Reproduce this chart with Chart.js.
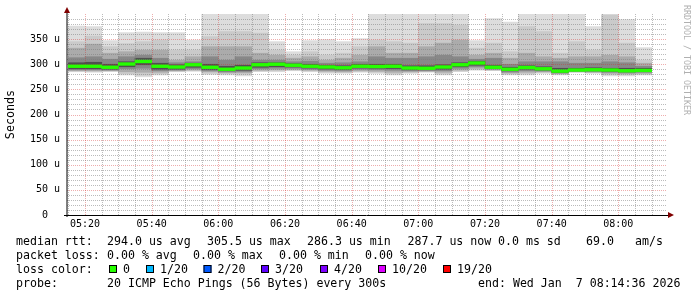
<!DOCTYPE html>
<html>
<head>
<meta charset="utf-8">
<script src="https://cdn.jsdelivr.net/npm/chart.js@4.4.1/dist/chart.umd.min.js"></script>
<style>
  html, body { margin: 0; padding: 0; background: #fff; }
  canvas { display: block; }
</style>
</head>
<body>
<canvas id="chart" width="697" height="297"></canvas>
<script>
// 5 minute bins (start time of each bin)
const binStarts = ['05:15', '05:20', '05:25', '05:30', '05:35', '05:40', '05:45', '05:50', '05:55',
  '06:00', '06:05', '06:10', '06:15', '06:20', '06:25', '06:30', '06:35', '06:40', '06:45', '06:50', '06:55',
  '07:00', '07:05', '07:10', '07:15', '07:20', '07:25', '07:30', '07:35', '07:40', '07:45', '07:50', '07:55',
  '08:00', '08:05'];
const tickLabels = ['05:20', '05:40', '06:00', '06:20', '06:40', '07:00', '07:20', '07:40', '08:00'];

// values in microseconds
const median = [296, 296, 294, 300.5, 305.5, 296, 294.5, 299, 294, 290, 292.5, 299, 300, 298, 296, 294.5, 293, 296,
  295.5, 296, 292.5, 292, 294.5, 299, 302.5, 294, 290, 293.5, 291, 286.3, 288.5, 289, 288.5, 287, 287.7];
const maxRtt = [376, 375, 347, 363, 364, 363, 363, 348, 430, 430, 430, 430, 345, 325, 347, 349, 345, 351,
  430, 430, 430, 430, 430, 430, 347, 391, 384, 430, 430, 430, 430, 375, 430, 389, 333];
const minRtt = [285, 284, 285.5, 278.6, 275, 278.6, 285, 286, 280, 278.6, 277, 285, 285, 287, 285, 282, 282, 284,
  282, 278.6, 282, 284, 278.6, 285, 288, 287, 278.6, 278.6, 282, 278.6, 284, 282, 277, 277, 278.6];
const hi2 = [345, 356, 335, 341, 345, 348, 328, 328, 355, 365, 365, 362, 328, 318, 325, 318, 322, 335,
  348, 345, 342, 381, 381, 378, 332, 342, 325, 375, 365, 322, 345, 328, 398, 342, 308];
const hi4 = [332, 340, 322, 325, 328, 328, 308, 315, 335, 335, 335, 322, 318, 312, 315, 308, 312, 318,
  335, 322, 322, 335, 342, 348, 318, 322, 312, 322, 315, 312, 315, 315, 318, 315, 302];
const hi6 = [313, 315, 310, 315, 318, 312, 303, 305, 315, 308, 315, 308, 308, 305, 306, 302, 303, 305,
  315, 312, 312, 315, 318, 315, 310, 312, 300, 305, 305, 305, 302, 302, 305, 303, 296];
const hi8 = [303, 304, 300, 305, 312, 302, 299, 302, 300, 296, 298, 303, 303, 301, 300, 298, 297, 300,
  300, 300, 297, 297, 299, 303, 306, 298, 294, 297, 295, 292, 292, 293, 292, 292, 292];
const lo2 = [286.5, 285.5, 286.5, 281, 278, 281, 286, 287, 282, 281, 280, 286.5, 287, 288, 286.5, 284, 283.5, 285.5,
  284, 281, 283.5, 285, 281, 286.5, 289.5, 288, 280.5, 281, 283.5, 280, 284.5, 283, 279.5, 279, 280];
const lo4 = [287, 287, 287, 285, 284, 284, 287, 288.5, 285, 283, 283, 288, 289, 289.5, 288, 286, 285, 287,
  286, 284, 285, 286, 284, 288.5, 292, 289, 282.5, 284, 285, 281.5, 285, 284, 282, 281, 282];
const lo6 = [289, 289, 288.5, 291, 292, 287, 288.5, 291, 287, 285, 285.5, 291, 292, 292, 290, 288, 287.5, 290,
  289, 288, 287, 287.5, 287, 292, 295, 290.5, 284.5, 287, 286.5, 282.5, 286, 285.5, 284, 283, 284];
const lo8 = [291, 291, 290, 295, 299, 290, 290, 294, 289.5, 287, 288, 294, 295, 294.5, 292.5, 290.5, 289.5, 292.5,
  292, 291.5, 289, 289, 290, 295, 298, 292, 287, 290, 288.5, 284, 287, 287, 286, 285, 286];

const rttStats = ['294.0 us avg', '305.5 us max', '286.3 us min', '287.7 us now', '0.0 ms sd'];
const lossStats = ['0.00 % avg', '0.00 % max', '0.00 % min', '0.00 % now'];
const lossLabels = ['0', '1/20', '2/20', '3/20', '4/20', '10/20', '19/20'];
const lossColors = ['#26ff00', '#00b8ff', '#0059ff', '#5e00ff', '#7e00ff', '#dd00ff', '#ff0000'];

const MONO = '"DejaVu Sans Mono"';
const toMin = (s) => { const [h, m] = s.split(':').map(Number); return h * 60 + m; };
const centers = binStarts.map((s) => toMin(s) + 2.5);

const smoke = [
  { lo: minRtt, hi: maxRtt, color: '#dddddd' },
  { lo: lo2, hi: hi2, color: '#cacaca' },
  { lo: lo4, hi: hi4, color: '#ababab' },
  { lo: lo6, hi: hi6, color: '#888888' },
  { lo: lo8, hi: hi8, color: '#505050' }
];

const barBase = { type: 'bar', borderWidth: 0, grouped: false, barPercentage: 1, categoryPercentage: 1 };
const datasets = smoke.map((s, i) => ({
  ...barBase,
  data: centers.map((x, k) => ({ x: x, y: [s.lo[k], s.hi[k]] })),
  backgroundColor: s.color,
  order: 10 - i
}));
datasets.push({
  ...barBase,
  data: centers.map((x, k) => ({ x: x, y: [median[k] - 2.7, median[k] + 2.7] })),
  backgroundColor: lossColors[0],
  order: 0
});

// rrd style dotted grid, drawn over the smoke but below the median
const rrdGrid = {
  id: 'rrdGrid',
  afterDatasetDraw(chart, args) {
    if (args.index !== smoke.length - 1) return;
    const { ctx, chartArea: a, scales: { x, y } } = chart;
    const minor = 'rgba(120,120,120,0.5)';
    const major = 'rgba(210,40,40,0.38)';
    ctx.save();
    ctx.lineWidth = 1;
    ctx.setLineDash([1, 1]);
    for (let t = 315; t <= 490; t += 5) {
      const px = Math.round(x.getPixelForValue(t)) + 0.5;
      ctx.strokeStyle = t % 20 === 0 ? major : minor;
      ctx.beginPath(); ctx.moveTo(px, a.bottom); ctx.lineTo(px, a.top); ctx.stroke();
    }
    for (let v = 10; v < 400; v += 10) {
      const py = Math.round(y.getPixelForValue(v)) + 0.5;
      ctx.strokeStyle = v % 50 === 0 ? major : minor;
      ctx.beginPath(); ctx.moveTo(a.left, py); ctx.lineTo(a.right, py); ctx.stroke();
    }
    ctx.restore();
  }
};

const rrdFrame = {
  id: 'rrdFrame',
  afterDraw(chart) {
    const { ctx, chartArea: a } = chart;
    ctx.save();
    // axes
    ctx.strokeStyle = '#000';
    ctx.lineWidth = 1;
    ctx.beginPath(); ctx.moveTo(a.left, a.bottom + 2); ctx.lineTo(a.left, a.top - 2); ctx.stroke();
    ctx.beginPath(); ctx.moveTo(a.left - 3, a.bottom + 0.5); ctx.lineTo(a.right + 2, a.bottom + 0.5); ctx.stroke();
    // arrows
    ctx.fillStyle = '#800000';
    ctx.beginPath();
    ctx.moveTo(a.left - 3, a.top - 1); ctx.lineTo(a.left + 3, a.top - 1); ctx.lineTo(a.left, a.top - 7);
    ctx.closePath(); ctx.fill();
    ctx.beginPath();
    ctx.moveTo(a.right + 1, a.bottom - 3); ctx.lineTo(a.right + 1, a.bottom + 3); ctx.lineTo(a.right + 7, a.bottom);
    ctx.closePath(); ctx.fill();
    // watermark
    ctx.translate(686, 5);
    ctx.rotate(Math.PI / 2);
    ctx.font = '8.3px ' + MONO;
    ctx.fillStyle = '#b0b0b0';
    ctx.textBaseline = 'middle';
    ctx.fillText('RRDTOOL / TOBI OETIKER', 0, 0);
    ctx.restore();

    // legend
    ctx.save();
    ctx.font = '11.6px ' + MONO;
    ctx.fillStyle = '#000';
    ctx.textBaseline = 'alphabetic';
    ctx.fillText('median rtt:', 16, 245);
    [107, 207, 307, 407.5, 498].forEach((px, i) => ctx.fillText(rttStats[i], px, 245));
    ctx.fillText('69.0', 586, 245);
    ctx.fillText('am/s', 635, 245);

    ctx.fillText('packet loss:', 16, 259);
    [107, 193, 279, 365].forEach((px, i) => ctx.fillText(lossStats[i], px, 259));

    ctx.fillText('loss color:', 16, 273);
    [109, 146, 203.5, 261, 320, 378, 443].forEach((px, i) => {
      ctx.fillStyle = lossColors[i];
      ctx.fillRect(px, 265, 8, 8);
      ctx.strokeStyle = '#000';
      ctx.strokeRect(px + 0.5, 265.5, 7, 7);
      ctx.fillStyle = '#000';
      ctx.fillText(lossLabels[i], px + 14, 273);
    });

    ctx.fillText('probe:', 16, 287);
    ctx.fillText('20 ICMP Echo Pings (56 Bytes) every 300s', 107, 287);
    ctx.fillText('end: Wed Jan  7 08:14:36 2026', 478, 287);
    ctx.restore();
  }
};

new Chart(document.getElementById('chart'), {
  type: 'bar',
  data: { datasets: datasets },
  options: {
    responsive: false,
    animation: false,
    devicePixelRatio: 1,
    layout: { padding: { left: 0, right: 30, top: 14, bottom: 0 } },
    plugins: { legend: { display: false }, tooltip: { enabled: false } },
    scales: {
      x: {
        type: 'linear',
        min: toMin('05:14') + 0.6,
        max: toMin('08:14') + 0.6,
        offset: false,
        afterBuildTicks: (s) => { s.ticks = tickLabels.map((l) => ({ value: toMin(l) })); },
        afterFit: (s) => { s.height = 82; },
        grid: { display: false, drawTicks: false },
        border: { display: false },
        ticks: {
          autoSkip: false, maxRotation: 0, padding: 3, color: '#000',
          font: { family: MONO, size: 10 },
          callback: (v, i) => tickLabels[i]
        }
      },
      y: {
        min: 0,
        max: 400,
        afterBuildTicks: (s) => { s.ticks = s.ticks.filter((t) => t.value <= 350); },
        afterFit: (s) => { s.width = 67; },
        grid: { display: false, drawTicks: false },
        border: { display: false },
        ticks: {
          stepSize: 50, padding: 7, color: '#000',
          font: { family: MONO, size: 10 },
          callback: (v) => (v === 0 ? '0  ' : v + ' u')
        },
        title: {
          display: true, text: 'Seconds', color: '#000',
          font: { family: MONO, size: 11.7 },
          padding: { top: 3.5, bottom: 0 }
        }
      }
    }
  },
  plugins: [rrdGrid, rrdFrame]
});
</script>
</body>
</html>
